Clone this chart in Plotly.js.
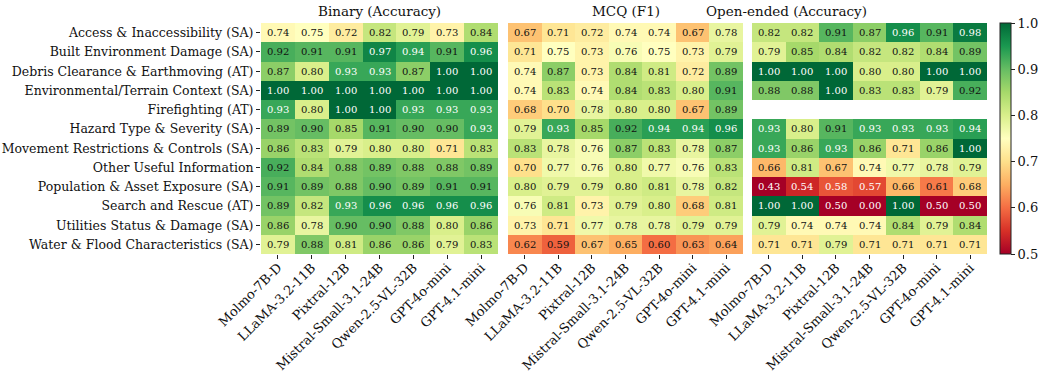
<!DOCTYPE html>
<html>
<head>
<meta charset="utf-8">
<script src="https://cdn.plot.ly/plotly-3.0.1.min.js"></script>
<style>body{margin:0;background:#fff}#chart{width:1046px;height:376px}</style>
</head>
<body>
<div id="chart"></div>
<script>
const models = ['Molmo-7B-D', 'LLaMA-3.2-11B', 'Pixtral-12B', 'Mistral-Small-3.1-24B', 'Qwen-2.5-VL-32B', 'GPT-4o-mini', 'GPT-4.1-mini'];
const categories = [
  'Access & Inaccessibility (SA)', 'Built Environment Damage (SA)', 'Debris Clearance & Earthmoving (AT)',
  'Environmental/Terrain Context (SA)', 'Firefighting (AT)', 'Hazard Type & Severity (SA)',
  'Movement Restrictions & Controls (SA)', 'Other Useful Information', 'Population & Asset Exposure (SA)',
  'Search and Rescue (AT)', 'Utilities Status & Damage (SA)', 'Water & Flood Characteristics (SA)'
];

const binary = [
  [0.74, 0.75, 0.72, 0.82, 0.79, 0.73, 0.84],
  [0.92, 0.91, 0.91, 0.97, 0.94, 0.91, 0.96],
  [0.87, 0.80, 0.93, 0.93, 0.87, 1.00, 1.00],
  [1.00, 1.00, 1.00, 1.00, 1.00, 1.00, 1.00],
  [0.93, 0.80, 1.00, 1.00, 0.93, 0.93, 0.93],
  [0.89, 0.90, 0.85, 0.91, 0.90, 0.90, 0.93],
  [0.86, 0.83, 0.79, 0.80, 0.80, 0.71, 0.83],
  [0.92, 0.84, 0.88, 0.89, 0.88, 0.88, 0.89],
  [0.91, 0.89, 0.88, 0.90, 0.89, 0.91, 0.91],
  [0.89, 0.82, 0.93, 0.96, 0.96, 0.96, 0.96],
  [0.86, 0.78, 0.90, 0.90, 0.88, 0.80, 0.86],
  [0.79, 0.88, 0.81, 0.86, 0.86, 0.79, 0.83]
];
const mcq = [
  [0.67, 0.71, 0.72, 0.74, 0.74, 0.67, 0.78],
  [0.71, 0.75, 0.73, 0.76, 0.75, 0.73, 0.79],
  [0.74, 0.87, 0.73, 0.84, 0.81, 0.72, 0.89],
  [0.74, 0.83, 0.74, 0.84, 0.83, 0.80, 0.91],
  [0.68, 0.70, 0.78, 0.80, 0.80, 0.67, 0.89],
  [0.79, 0.93, 0.85, 0.92, 0.94, 0.94, 0.96],
  [0.83, 0.78, 0.76, 0.87, 0.83, 0.78, 0.87],
  [0.70, 0.77, 0.76, 0.80, 0.77, 0.76, 0.83],
  [0.80, 0.79, 0.79, 0.80, 0.81, 0.78, 0.82],
  [0.76, 0.81, 0.73, 0.79, 0.80, 0.68, 0.81],
  [0.73, 0.71, 0.77, 0.78, 0.78, 0.79, 0.79],
  [0.62, 0.59, 0.67, 0.65, 0.60, 0.63, 0.64]
];
const openEnded = [
  [0.82, 0.82, 0.91, 0.87, 0.96, 0.91, 0.98],
  [0.79, 0.85, 0.84, 0.82, 0.82, 0.84, 0.89],
  [1.00, 1.00, 1.00, 0.80, 0.80, 1.00, 1.00],
  [0.88, 0.88, 1.00, 0.83, 0.83, 0.79, 0.92],
  [null, null, null, null, null, null, null],
  [0.93, 0.80, 0.91, 0.93, 0.93, 0.93, 0.94],
  [0.93, 0.86, 0.93, 0.86, 0.71, 0.86, 1.00],
  [0.66, 0.81, 0.67, 0.74, 0.77, 0.78, 0.79],
  [0.43, 0.54, 0.58, 0.57, 0.66, 0.61, 0.68],
  [1.00, 1.00, 0.50, 0.00, 1.00, 0.50, 0.50],
  [0.79, 0.74, 0.74, 0.74, 0.84, 0.79, 0.84],
  [0.71, 0.71, 0.79, 0.71, 0.71, 0.71, 0.71]
];
const panelTitles = ['Binary (Accuracy)', 'MCQ (F1)', 'Open-ended (Accuracy)'];

// matplotlib RdYlGn
const rdylgn = ['#a50026', '#d73027', '#f46d43', '#fdae61', '#fee08b', '#ffffbf',
  '#d9ef8b', '#a6d96a', '#66bd63', '#1a9850', '#006837'];
const colorscale = rdylgn.map((c, i) => [i / (rdylgn.length - 1), c]);

const W = 1046;
const domains = [[261, 498], [508, 743], [752, 987]].map(d => [d[0] / W, d[1] / W]);
const font = 'DejaVu Serif, serif';

const panels = [binary, mcq, openEnded];
const traces = [];
const annotations = [];
const layout = {
  width: 1046, height: 376,
  margin: {l: 0, r: 0, t: 23, b: 122},
  paper_bgcolor: '#fff', plot_bgcolor: '#fff',
  font: {family: font, size: 12, color: '#111'},
  showlegend: false
};

panels.forEach((z, p) => {
  const xa = p === 0 ? 'x' : 'x' + (p + 1);
  const ya = p === 0 ? 'y' : 'y' + (p + 1);
  traces.push({
    type: 'heatmap', z: z, x: models, y: categories,
    xaxis: xa, yaxis: ya,
    zmin: 0.5, zmax: 1.0, colorscale: colorscale,
    xgap: 0, ygap: 0, hoverongaps: false,
    showscale: p === 2,
    colorbar: {
      x: 1000 / W, xanchor: 'left', xpad: 0, ypad: 0,
      thickness: 11, thicknessmode: 'pixels',
      len: 1, lenmode: 'fraction', y: 0.5, yanchor: 'middle',
      outlinewidth: 1, outlinecolor: '#222',
      tickvals: [0.5, 0.6, 0.7, 0.8, 0.9, 1.0],
      ticktext: ['0.5', '0.6', '0.7', '0.8', '0.9', '1.0'],
      ticks: 'outside', ticklen: 4, tickcolor: '#222',
      tickfont: {family: font, size: 13, color: '#111'}
    }
  });
  const axKey = p === 0 ? 'xaxis' : 'xaxis' + (p + 1);
  const ayKey = p === 0 ? 'yaxis' : 'yaxis' + (p + 1);
  layout[axKey] = {
    domain: domains[p], anchor: ya, type: 'category',
    tickangle: -45, ticks: 'outside', ticklen: 4, tickcolor: '#222',
    ticklabelstandoff: -4,
    tickfont: {family: font, size: 13, color: '#111'},
    showgrid: false, zeroline: false, showline: false, fixedrange: true
  };
  layout[ayKey] = {
    domain: [0, 1], anchor: xa, type: 'category', autorange: 'reversed',
    ticks: p === 0 ? 'outside' : '', ticklen: 4, tickcolor: '#222',
    showticklabels: p === 0,
    tickfont: {family: font, size: 12.5, color: '#111'},
    showgrid: false, zeroline: false, showline: false, fixedrange: true
  };
  annotations.push({
    text: panelTitles[p], xref: 'paper', yref: 'paper',
    x: (domains[p][0] + domains[p][1]) / 2, y: 1, yanchor: 'bottom', yshift: 2,
    showarrow: false, font: {family: font, size: 13.5, color: '#111'}
  });
  z.forEach((row, r) => {
    row.forEach((v, c) => {
      if (v === null) return;
      const light = v >= 0.925 || v < 0.585;
      annotations.push({
        x: models[c], y: categories[r], xref: xa, yref: ya,
        text: v.toFixed(2), showarrow: false,
        font: {family: font, size: 10, color: light ? '#fff' : '#111'}
      });
    });
  });
});

layout.annotations = annotations;
Plotly.newPlot('chart', traces, layout, {displayModeBar: false, staticPlot: true});
</script>
</body>
</html>
